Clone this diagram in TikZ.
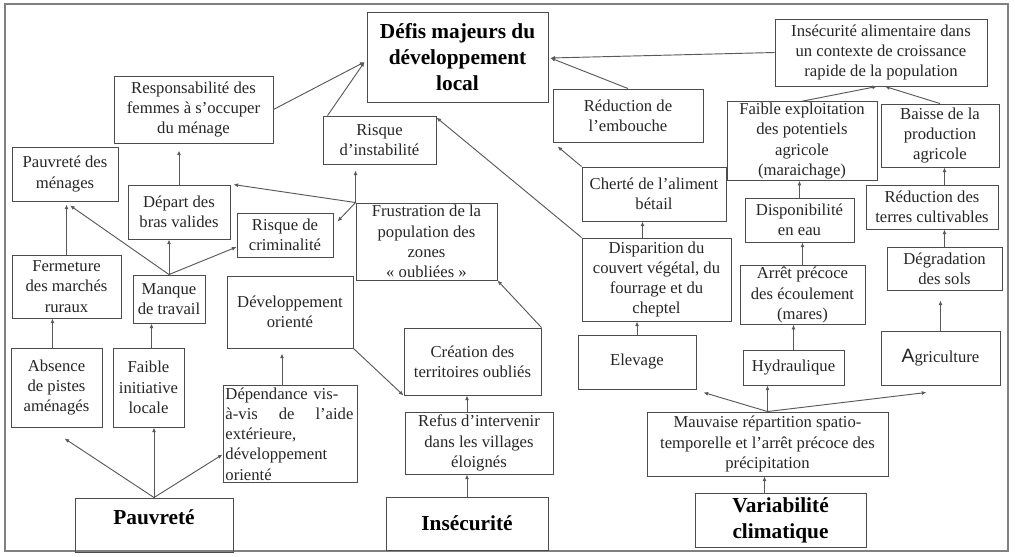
\documentclass[tikz,border=0pt]{standalone}
\usepackage{fontspec}
\setmainfont{Liberation Serif}
\newfontfamily\serifface{Liberation Serif}
\newfontfamily\agrisans{Liberation Sans}
\usetikzlibrary{arrows.meta,calc}
\newcommand\bxnode[7][]{%
  \pgfmathsetmacro\bxw{(#5-#3)*0.75}%
  \pgfmathsetmacro\bxh{(#6-#4)*0.75}%
  \node[box,minimum width=\bxw pt,minimum height=\bxh pt,#1] (#2) at ({(#3+#5)/2},{(#4+#6)/2}) {#7};}
\tikzset{
  box/.style={draw=black!70, line width=0.7pt, align=center, inner sep=1pt,
    font=\serifface\fontsize{12.5}{15.2}\selectfont, text=black!85},
  big/.style={font=\serifface\bfseries\fontsize{16}{19.5}\selectfont, text=black},
  con/.style={draw=black!65, line width=0.7pt, -{Latex[length=3.5pt,width=3pt]}},
  frame/.style={draw=black!50, line width=0.8pt}
}
\begin{document}
\begin{tikzpicture}[x=0.75pt,y=-0.75pt]
\useasboundingbox (0,0) rectangle (1015,557);
\draw[frame] (5,4) rectangle (1008,551);

\bxnode[big]{defis}{367}{12}{548}{102}{Défis majeurs du\\développement\\local}
\bxnode{insal}{775}{19}{987}{86}{Insécurité alimentaire dans\\un contexte de croissance\\rapide de la population}
\bxnode{resp}{114}{76}{273}{143}{Responsabilité des\\femmes à s’occuper\\du ménage}
\bxnode{pmen}{12}{147}{118}{201}{Pauvreté des\\ménages}
\bxnode{depart}{128}{185}{230}{239}{Départ des\\bras valides}
\bxnode{crim}{237}{213}{333}{257}{Risque de\\criminalité}
\bxnode{instab}{323}{116}{436}{164}{Risque\\d’instabilité}
\bxnode{frustr}{356}{203}{497}{280}{Frustration de la\\population des\\zones\\« oubliées »}
\bxnode{embouche}{553}{89}{703}{142}{Réduction de\\l’embouche}
\bxnode{cherte}{582}{167}{726}{221}{Cherté de l’aliment\\bétail}
\bxnode{dispar}{582}{238}{731}{321}{Disparition du\\couvert végétal, du\\fourrage et du\\cheptel}
\bxnode{faible}{727}{102}{877}{180}{Faible exploitation\\des potentiels\\agricole\\(maraichage)}
\bxnode{baisse}{881}{104}{999}{167}{Baisse de la\\production\\agricole}
\bxnode{dispo}{745}{198}{854}{242}{Disponibilité\\en eau}
\bxnode{redt}{866}{185}{998}{229}{Réduction des\\terres cultivables}
\bxnode{degr}{887}{247}{1002}{290}{Dégradation\\des sols}
\bxnode{arret}{740}{268}{865}{322}{Arrêt précoce\\des écoulement\\(mares)}
\bxnode{hydrau}{743}{350}{844}{385}{Hydraulique}
\bxnode{agri}{881}{331}{1000}{385}{{\agrisans\fontsize{14.5}{15}\selectfont A}griculture}
\bxnode{elev}{578}{335}{696}{389}{Elevage}
\bxnode{mauv}{647}{412}{888}{476}{Mauvaise répartition spatio-\\temporelle et l’arrêt précoce des\\précipitation}
\bxnode[big]{varc}{695}{493}{866}{547}{Variabilité\\climatique}
\bxnode[big]{insec}{386}{497}{548}{550}{Insécurité}
\bxnode{refus}{405}{412}{553}{474}{Refus d’intervenir\\dans les villages\\éloignés}
\bxnode{creat}{404}{328}{541}{395}{Création des\\territoires oubliés}
\bxnode[big]{pauv}{75}{498}{233}{552}{Pauvreté\\[-8pt]}
\bxnode{dep}{223}{385}{357}{482}{}
\node[anchor=north west, inner sep=2pt, text width=96pt, align=left,
  font=\serifface\fontsize{12.5}{15.2}\selectfont, text=black!85] (deptext) at (dep.north west)
  {Dépendance vis-\\à-vis\hfill de\hfill l’aide\\extérieure,\\développement\\orienté};
\bxnode{devo}{227}{276}{353}{348}{Développement\\orienté}
\bxnode{finit}{113}{348}{184}{427}{Faible\\initiative\\locale}
\bxnode{absn}{11}{348}{102}{427}{Absence\\de pistes\\aménagés}
\bxnode{manque}{133}{275}{205}{323}{Manque\\de travail}
\bxnode{ferm}{12}{255}{121}{318}{Fermeture\\des marchés\\ruraux}

\draw[con] (resp.east) -- ($(defis.west)+(-2,5)$);
\draw[con] ($(instab.north west)+(5,0)$) -- ($(defis.west)+(-2,5)$);
\draw[con] (insal.west) -- ($(defis.east)+(2,1)$);
\draw[con] (embouche.north) -- ($(defis.east)+(2,1)$);
\draw[con] (faible.north) -- ($(insal.south)+(-4,0)$);
\draw[con] (baisse.north) -- ($(insal.south)+(4,0)$);
\draw[con] (dispo.north) -- (dispo.north |- faible.south);
\draw[con] (arret.north) -- (arret.north |- dispo.south);
\draw[con] (hydrau.north) -- (hydrau.north |- arret.south);
\draw[con] (mauv.north) -- (mauv.north |- hydrau.south);
\draw[con] (mauv.north) -- ($(elev.south east)+(7,3)$);
\draw[con] (mauv.north) -- ($(agri.south)+(-14,7)$);
\coordinate (vtop) at ($(varc.north)+(-16,0)$);
\draw[con] (vtop) -- (vtop |- mauv.south);
\draw[con] (agri.north) -- ($(agri.north |- degr.south)+(0,10)$);
\draw[con] (degr.north) -- (degr.north |- redt.south);
\draw[con] (degr.north |- redt.north) -- (degr.north |- baisse.south);
\draw[con] (elev.north) -- (elev.north |- dispar.south);
\coordinate (dtop) at ($(dispar.north)+(-14,0)$);
\draw[con] (dtop) -- (dtop |- cherte.south);
\draw[con] (cherte.north west) -- ($(embouche.south west)+(5,4)$);
\draw[con] (dispar.north west) -- ($(instab.north east)+(0,2)$);
\draw[con] (frustr.north west) -- ($(frustr.north west |- instab.south)+(0,6)$);
\draw[con] (frustr.north west) -- ($(depart.north east)+(3,0)$);
\draw[con] (frustr.north west) -- ($(crim.north east)+(4,9)$);
\draw[con] (creat.north east) -- (frustr.south east);
\draw[con] (devo.south east) -- (creat.south west);
\coordinate (rtop) at ($(refus.north)+(-12,0)$);
\draw[con] (rtop) -- (rtop |- creat.south);
\draw[con] (insec.north) -- (insec.north |- refus.south);
\coordinate (deptop) at ($(dep.north)+(-8,0)$);
\draw[con] (deptop) -- ($(deptop |- devo.south)+(0,5)$);
\draw[con] (pauv.north) -- ($(absn.south)+(8,11)$);
\draw[con] (pauv.north) -- (pauv.north |- finit.south);
\draw[con] (pauv.north) -- ($(dep.west)+(0,21)$);
\coordinate (atop) at ($(absn.north)+(-4,0)$);
\draw[con] (atop) -- (atop |- ferm.south);
\draw[con] (ferm.north) -- ($(ferm.north |- pmen.south)+(0,3)$);
\coordinate (ftop) at ($(finit.north)+(3,0)$);
\draw[con] (ftop) -- (ftop |- manque.south);
\draw[con] (manque.north) -- ($(pmen.south)+(5,4)$);
\draw[con] (manque.north) -- (manque.north |- depart.south);
\draw[con] (manque.north) -- ($(crim.west)+(0,12)$);
\draw[con] (depart.north) -- ($(depart.north |- resp.south)+(0,7)$);
\end{tikzpicture}
\end{document}
